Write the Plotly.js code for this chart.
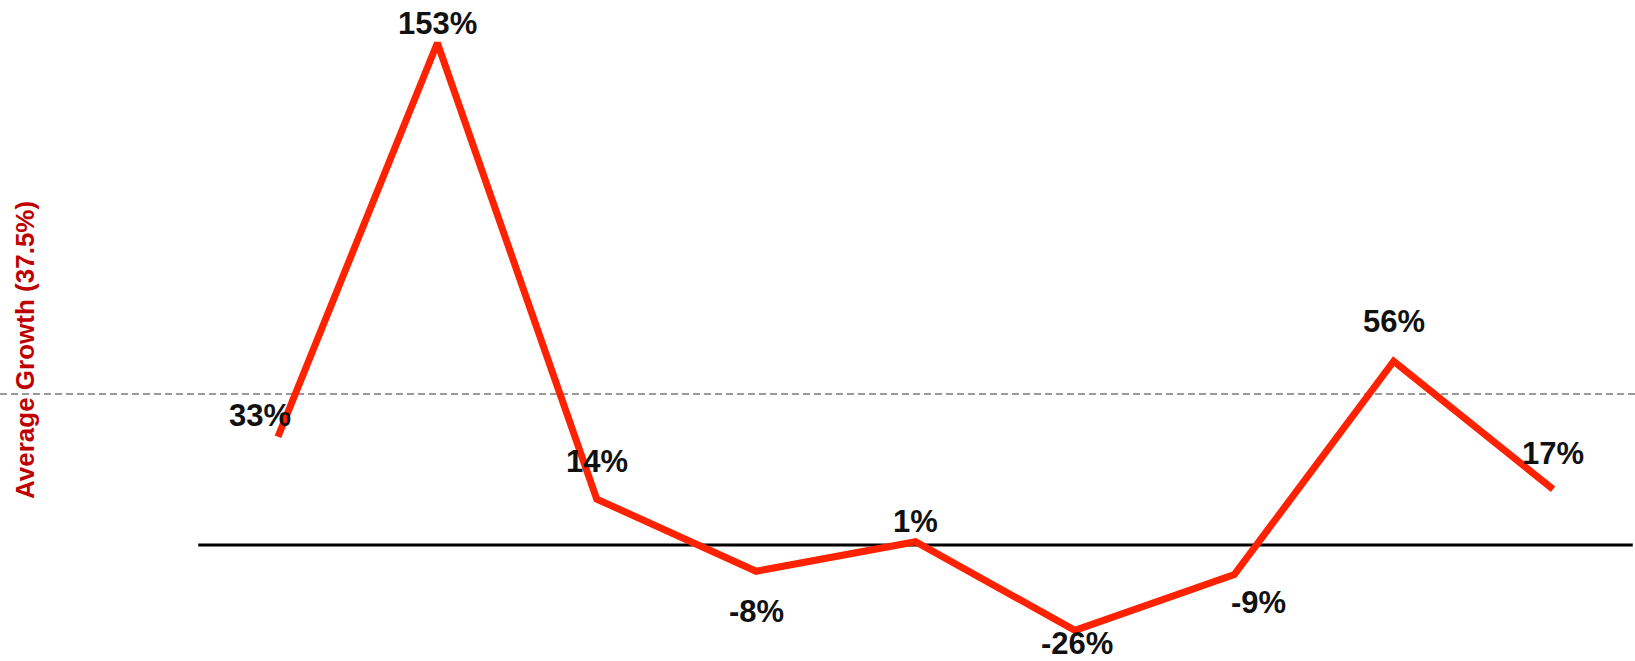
<!DOCTYPE html>
<html>
<head>
<meta charset="utf-8">
<script src="https://cdn.plot.ly/plotly-3.0.1.min.js"></script>
<style>html,body{margin:0;padding:0;background:#fff;}#chart{width:1635px;height:661px;}</style>
</head>
<body>
<div id="chart"></div>
<script>
// Data
const periods = [0, 1, 2, 3, 4, 5, 6, 7, 8];
const growth = [33, 153, 14, -8, 1, -26, -9, 56, 17];
const averageLine = 46;
const titleText = "Average Growth (37.5%)";
// label offsets (px) relative to each point
const labelDx = [-18, 0, 0, 0, 0, 2, 24, 0, 0];
const labelDy = [21, 19, 38, -40, 20, -13, -28, 40, 36];

const trace = {
  x: periods,
  y: growth,
  type: 'scatter',
  mode: 'lines',
  line: {color: '#FF2200', width: 7},
  hoverinfo: 'skip'
};

const annotations = growth.map((v, i) => ({
  x: periods[i], y: v, xref: 'x', yref: 'y',
  text: v + '%', showarrow: false,
  xanchor: 'center', yanchor: 'middle',
  xshift: labelDx[i], yshift: labelDy[i],
  font: {family: 'Liberation Sans, Arial, sans-serif', size: 31, color: '#111', weight: 'bold'}
}));
annotations.push({
  xref: 'paper', yref: 'paper', x: 25/1635, y: 1 - 350/661,
  xanchor: 'center', yanchor: 'middle',
  text: titleText, showarrow: false, textangle: -90,
  font: {family: 'Liberation Sans, Arial, sans-serif', size: 26, color: '#C00000', weight: 'bold'}
});

const layout = {
  width: 1635, height: 661,
  margin: {l: 0, r: 0, t: 0, b: 0},
  paper_bgcolor: '#fff', plot_bgcolor: '#fff',
  showlegend: false,
  xaxis: {range: [-1.744, 8.514], visible: false, showgrid: false, zeroline: false},
  yaxis: {range: [-35.35, 166.1], visible: false, showgrid: false, zeroline: false},
  shapes: [
    {type: 'line', xref: 'paper', yref: 'y', x0: 0, x1: 1, y0: averageLine, y1: averageLine,
     line: {color: '#999', width: 2, dash: '7px,4px'}, layer: 'below'},
    {type: 'line', xref: 'x', yref: 'y', x0: -0.5, x1: 8.5, y0: 0, y1: 0,
     line: {color: '#000', width: 3}, layer: 'below'}
  ],
  annotations: annotations
};

Plotly.newPlot('chart', [trace], layout, {displayModeBar: false, staticPlot: true});
</script>
</body>
</html>
